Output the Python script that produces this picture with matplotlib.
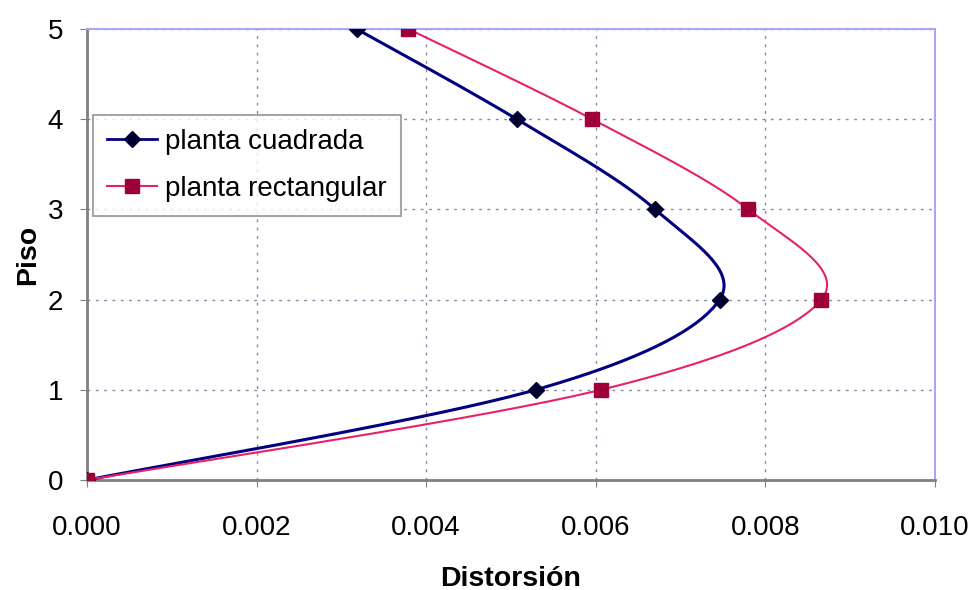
import matplotlib
matplotlib.use("Agg")
import matplotlib.pyplot as plt
import numpy as np

plt.rcParams["font.family"] = ["Liberation Sans", "DejaVu Sans"]

piso = [0, 1, 2, 3, 4, 5]
cuadrada = [0.0, 0.00529, 0.00746, 0.0067, 0.00507, 0.00318]
rectangular = [0.0, 0.00606, 0.00866, 0.0078, 0.00596, 0.00379]

x_ticks = [0.000, 0.002, 0.004, 0.006, 0.008, 0.010]
y_ticks = [0, 1, 2, 3, 4, 5]


def smooth(xs, ys, xr=0.01, yr=5.0, n=40):
    # excel-like smoothed line (bezier with 1/6 tangents), done in scaled space
    px = np.asarray(xs) / xr * 848
    py = np.asarray(ys) / yr * 451
    out_x, out_y = [], []
    m = len(px)
    t = np.linspace(0, 1, n)
    for i in range(m - 1):
        p0 = np.array([px[i], py[i]])
        p3 = np.array([px[i + 1], py[i + 1]])
        prev = np.array([px[max(i - 1, 0)], py[max(i - 1, 0)]])
        nxt = np.array([px[min(i + 2, m - 1)], py[min(i + 2, m - 1)]])
        p1 = p0 + (p3 - prev) / 6
        p2 = p3 - (nxt - p0) / 6
        b = ((1 - t) ** 3)[:, None] * p0 + (3 * (1 - t) ** 2 * t)[:, None] * p1 \
            + (3 * (1 - t) * t ** 2)[:, None] * p2 + (t ** 3)[:, None] * p3
        out_x.extend(b[:, 0])
        out_y.extend(b[:, 1])
    return np.array(out_x) / 848 * xr, np.array(out_y) / 451 * yr


fig = plt.figure(figsize=(9.75, 5.9), dpi=100)
ax = fig.add_axes([0.0892, 0.1864, 0.8697, 0.7644])

sx, sy = smooth(cuadrada, piso)
ax.plot(sx, sy, color="#000080", lw=2.2, zorder=3)
ax.plot(cuadrada, piso, ls="none", marker="D", ms=8.5, color="#000030", zorder=4)
ax.plot([], [], color="#000080", lw=2.0, marker="D", ms=8.5, mfc="#000030",
        mec="#000030", label="planta cuadrada")

sx, sy = smooth(rectangular, piso)
ax.plot(sx, sy, color="#e8206a", lw=1.5, zorder=3)
ax.plot(rectangular, piso, ls="none", marker="s", ms=10, color="#a0003a", zorder=4)
ax.plot([], [], color="#e8206a", lw=1.5, marker="s", ms=10, mfc="#a0003a",
        mec="#a0003a", label="planta rectangular")

ax.set_xlim(0, 0.010)
ax.set_ylim(0, 5)
ax.set_xticks(x_ticks)
ax.set_xticklabels([f"{v:.3f}" for v in x_ticks])
ax.set_yticks(y_ticks)
ax.tick_params(labelsize=20, length=5, color="#808080", pad=20)
ax.tick_params(axis="y", pad=12)

ax.grid(True, ls=(0, (2, 4)), color="#8888aa", lw=1.0)
for s in ["left", "bottom"]:
    ax.spines[s].set_color("#808080")
    ax.spines[s].set_linewidth(2)
for s in ["top", "right"]:
    ax.spines[s].set_color("#a8a8f0")
    ax.spines[s].set_linewidth(1.5)

ax.set_xlabel("Distorsión", fontsize=20.5, fontweight="bold", labelpad=18)
ax.set_ylabel("Piso", fontsize=20.5, fontweight="bold", labelpad=5)

leg = ax.legend(loc="upper left", bbox_to_anchor=(0.007, 0.809), fontsize=20,
                frameon=True, fancybox=False, edgecolor="#909090",
                handlelength=1.8, handletextpad=0.3, borderpad=0.5,
                labelspacing=0.75, borderaxespad=0)
leg.get_frame().set_linewidth(1.5)

fig.savefig("out.png", dpi=100)
